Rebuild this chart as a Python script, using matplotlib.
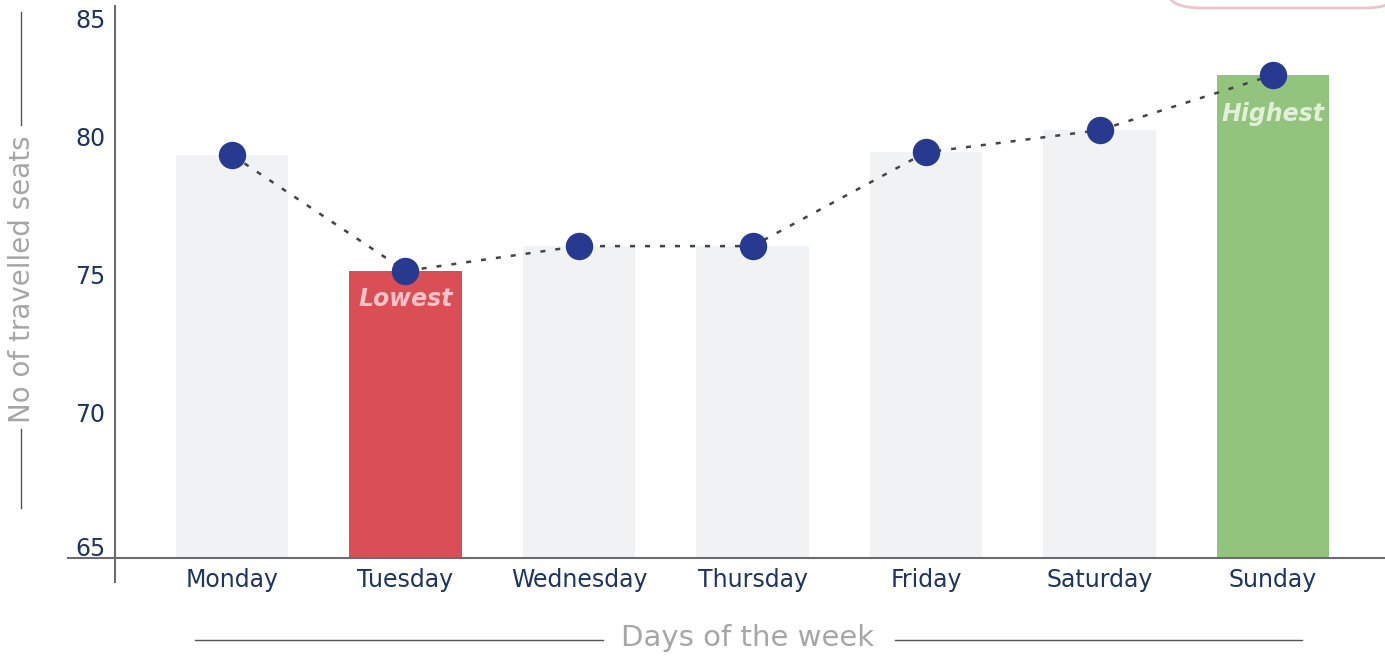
import matplotlib.pyplot as plt
from matplotlib.patches import FancyBboxPatch
from matplotlib.lines import Line2D
import matplotlib.transforms as mtransforms

days = ['Monday', 'Tuesday', 'Wednesday', 'Thursday', 'Friday', 'Saturday', 'Sunday']
seats = [79.6, 75.4, 76.3, 76.3, 79.7, 80.5, 82.5]
y_ticks = [65, 70, 75, 80, 85]

GREY_BAR = '#f1f2f4'
RED = '#da4f55'
GREEN = '#93c47d'
NAVY = '#283a8f'
TICK = '#1c3562'
LABEL = '#a6a6a6'

plt.rcParams['font.family'] = ['DejaVu Sans']

fig = plt.figure(figsize=(13.85, 6.58), dpi=100)
ax = fig.add_axes([115 / 1385, 100 / 658, 1270 / 1385, 552 / 658])

low = seats.index(min(seats))
high = seats.index(max(seats))
colors = [GREY_BAR] * len(days)
colors[low] = RED
colors[high] = GREEN

x = list(range(len(days)))
ax.bar(x, [v - 65 for v in seats], bottom=65, width=0.65, color=colors, zorder=1)
ax.plot(x, seats, linestyle=(0, (2, 4)), color='#444444', linewidth=1.8, zorder=2)
ax.scatter(x, seats, s=390, color=NAVY, zorder=3, linewidths=0)

ax.text(low, seats[low] - 1.0, 'Lowest', ha='center', va='center', fontsize=17,
        style='italic', fontweight='bold', color='#f8c4ca', zorder=4)
ax.text(high, seats[high] - 1.4, 'Highest', ha='center', va='center', fontsize=17,
        style='italic', fontweight='bold', color='#e2f0da', zorder=4)

ax.set_xlim(-0.674, 6.645)
ax.set_ylim(65, 85)
ax.set_xticks(x)
ax.set_xticklabels(days, fontsize=17, color=TICK)
ax.set_yticks(y_ticks)
ax.set_yticklabels([str(t) for t in y_ticks], fontsize=17, color=TICK)
ax.tick_params(length=0)
ax.tick_params(axis='x', pad=7)
ax.tick_params(axis='y', pad=7)

# nudge y labels like the original (up a little, top one kept inside)
offsets = [12, 7, 7, 7, -13]
for lab, dy in zip(ax.get_yticklabels(), offsets):
    lab.set_transform(lab.get_transform() + mtransforms.ScaledTranslation(0, dy / 100, fig.dpi_scale_trans))

for s in ax.spines.values():
    s.set_visible(False)

# extended axis lines
axis_col = '#6b6b70'
fig.add_artist(Line2D([68 / 1385, 1.0], [100 / 658, 100 / 658], color=axis_col, lw=1.5))
fig.add_artist(Line2D([115 / 1385, 115 / 1385], [76 / 658, 652 / 658], color=axis_col, lw=1.5))

# axis titles with side rules
fig.text(748 / 1385, 20 / 658, 'Days of the week', ha='center', va='center', fontsize=21, color=LABEL)
fig.add_artist(Line2D([195 / 1385, 603 / 1385], [18 / 658, 18 / 658], color='#555555', lw=1))
fig.add_artist(Line2D([895 / 1385, 1302 / 1385], [18 / 658, 18 / 658], color='#555555', lw=1))

fig.text(22 / 1385, 379 / 658, 'No of travelled seats', ha='center', va='center', rotation=90,
         fontsize=20, color=LABEL)
fig.add_artist(Line2D([21 / 1385, 21 / 1385], [533 / 658, 646 / 658], color='#555555', lw=1))
fig.add_artist(Line2D([21 / 1385, 21 / 1385], [150 / 658, 229 / 658], color='#555555', lw=1))

# partially visible rounded box at top right
fig.add_artist(FancyBboxPatch((1168 / 1385, 650 / 658), 230 / 1385, 60 / 658,
                              boxstyle='round,pad=0,rounding_size=0.025', transform=fig.transFigure,
                              facecolor='white', edgecolor='#ebc6c9', lw=2))

fig.savefig('out.png', dpi=100)
